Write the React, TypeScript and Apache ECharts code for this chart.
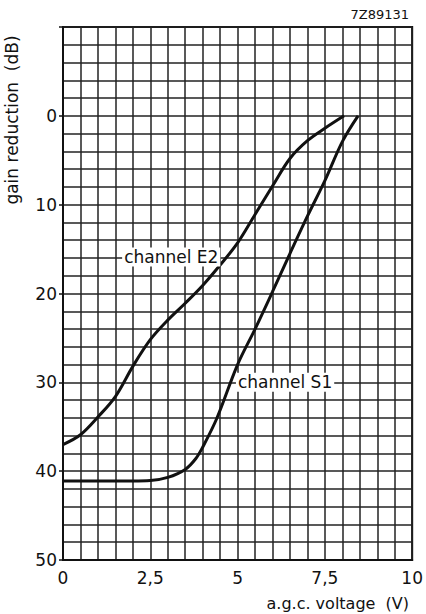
import React, { useEffect, useRef } from "react";
import * as echarts from "echarts";

const e2Points: [number, number][] = [
  [0, 37], [0.5, 35.9], [1, 33.9], [1.5, 31.6], [2, 28.2], [2.5, 25.2],
  [3, 23.0], [3.5, 21.1], [4, 19.1], [4.5, 16.8], [5, 14.3], [5.5, 11.1],
  [6, 7.9], [6.5, 4.8], [7, 2.8], [7.5, 1.4], [8.05, 0],
];
const s1Points: [number, number][] = [
  [0, 41.1], [1, 41.1], [2, 41.1], [2.5, 41.05], [3, 40.7], [3.5, 39.8],
  [3.8, 38.6], [4, 37.3], [4.4, 34.1], [5, 28.0], [5.5, 24.0], [6, 19.8],
  [6.5, 15.5], [7, 11.3], [7.5, 7.3], [8, 2.9], [8.45, 0],
];
const e2LabelAt: [number, number] = [3.1, 15.9];
const s1LabelAt: [number, number] = [6.36, 30.0];
const yLabelValues = [0, 10, 20, 30, 40, 50];
const xLabelValues = [0, 2.5, 5, 7.5, 10];
const figureCode = "7Z89131";
const yName = "gain reduction  (dB)";
const xName = "a.g.c. voltage  (V)";

const FONT = "DejaVu Sans";

export default function App() {
  const ref = useRef<HTMLDivElement>(null);
  useEffect(() => {
    document.body.style.margin = "0";
    const chart = echarts.init(ref.current!, null, { renderer: "svg" });
    const label = (text: string) => ({
      show: true,
      position: "inside",
      formatter: text,
      color: "#111",
      fontFamily: FONT,
      fontSize: 17,
      backgroundColor: "#fff",
      padding: [1, 2],
    });
    chart.setOption({
      animation: false,
      backgroundColor: "#fff",
      grid: {
        left: 63, right: 11, top: 27, bottom: 54,
        show: true, borderColor: "#111", borderWidth: 2, backgroundColor: "transparent",
      },
      xAxis: {
        type: "value",
        min: 0,
        max: 10,
        interval: 0.5,
        axisLine: { show: true, onZero: false, lineStyle: { color: "#111", width: 2 } },
        axisTick: { show: false },
        splitLine: { show: true, lineStyle: { color: "#222", width: 1.5 } },
        axisLabel: {
          color: "#111",
          fontFamily: FONT,
          fontSize: 17,
          margin: 9,
          formatter: (v: number) =>
            xLabelValues.some((x) => Math.abs(x - v) < 1e-6) ? String(v).replace(".", ",") : "",
        },
      },
      yAxis: [
        {
          type: "value",
          inverse: true,
          min: -10,
          max: 50,
          interval: 2,
          axisLine: { show: true, onZero: false, lineStyle: { color: "#111", width: 2 } },
          axisTick: { show: false },
          splitLine: { show: true, lineStyle: { color: "#222", width: 1.5 } },
          axisLabel: {
            color: "#111",
            fontFamily: FONT,
            fontSize: 17,
            margin: 6,
            formatter: (v: number) => (yLabelValues.includes(v) ? String(v) : ""),
          },
        },
        {
          type: "value",
          inverse: true,
          min: -10,
          max: 50,
          interval: 10,
          position: "left",
          axisLine: { show: false, onZero: false },
          axisTick: { show: true, length: 4, lineStyle: { color: "#111", width: 1.5 } },
          splitLine: { show: false },
          axisLabel: { show: false },
        },
      ],
      graphic: [
        {
          type: "text",
          right: 17,
          top: 8,
          style: { text: figureCode, fill: "#111", font: `13px "${FONT}"` },
        },
        {
          type: "text",
          x: 12,
          y: 120,
          rotation: Math.PI / 2,
          style: {
            text: yName,
            fill: "#111",
            font: `17px "${FONT}"`,
            align: "center",
            verticalAlign: "middle",
          },
        },
        {
          type: "text",
          x: 409,
          y: 603,
          style: {
            text: xName,
            fill: "#111",
            font: `16px "${FONT}"`,
            align: "right",
            verticalAlign: "middle",
          },
        },
      ],
      series: [
        {
          name: "channel E2",
          type: "line",
          data: e2Points,
          smooth: 0.35,
          showSymbol: false,
          lineStyle: { color: "#111", width: 3 },
          markPoint: {
            symbol: "rect",
            symbolSize: 1,
            itemStyle: { color: "rgba(0,0,0,0)" },
            data: [{ coord: e2LabelAt, label: label("channel E2") }],
          },
        },
        {
          name: "channel S1",
          type: "line",
          data: s1Points,
          smooth: 0.35,
          showSymbol: false,
          lineStyle: { color: "#111", width: 3 },
          markPoint: {
            symbol: "rect",
            symbolSize: 1,
            itemStyle: { color: "rgba(0,0,0,0)" },
            data: [{ coord: s1LabelAt, label: label("channel S1") }],
          },
        },
      ],
    });
    return () => chart.dispose();
  }, []);
  return (
    <div
      ref={ref}
      style={{ position: "absolute", left: 0, top: 0, width: 426, height: 614, background: "#fff" }}
    />
  );
}
